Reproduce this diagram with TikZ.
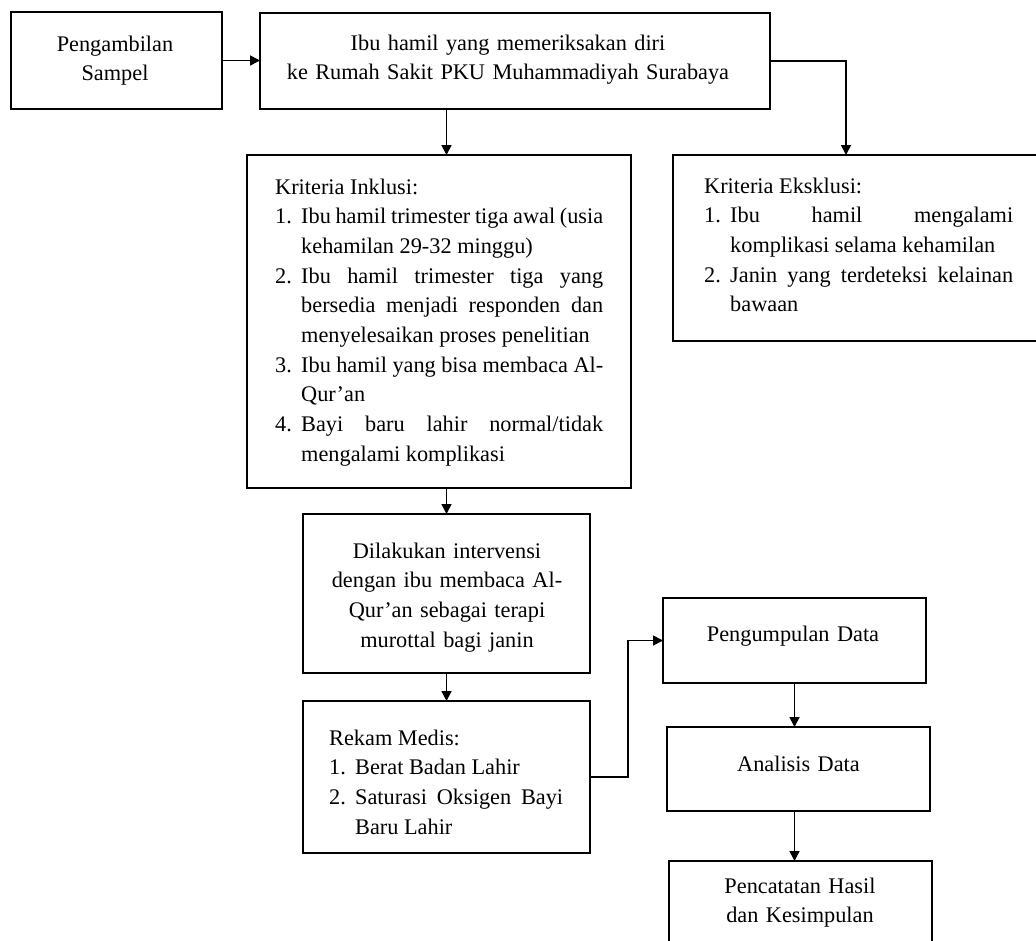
\documentclass[tikz,border=0pt]{standalone}
\usepackage{fontspec}
\setmainfont{Liberation Serif}
\usetikzlibrary{arrows.meta,calc}
\newcommand\fsz{\fontsize{22.3}{29.7}\selectfont}
\newcommand\myitem[2]{\par\hangindent=#1\hangafter=1\noindent\makebox[#1][l]{#2}}
\newcommand\jset{\hyphenpenalty=10000 \exhyphenpenalty=10000 \tolerance=10000 \spaceskip=.25em plus .3em minus .12em\relax}
\tikzset{
  box/.style={draw, line width=1.7pt, inner sep=0pt, outer sep=0pt, anchor=north west},
  arr/.style={line width=1.7pt, -{Triangle[length=10pt,width=10pt]}},
  ctxt/.style={inner sep=0pt, anchor=base, align=center, font=\fsz},
  ltxt/.style={inner sep=0pt, anchor=base west, align=justify, font=\fsz},
}
\begin{document}
\begin{tikzpicture}[x=1pt,y=-1pt]
\useasboundingbox (0,0) rectangle (1036,940);
\clip (0,0) rectangle (1036,940);
\fill[white] (0,0) rectangle (1036,940);
% boxes
\node[box, minimum width=211pt, minimum height=97pt] (A) at (11,12) {};
\node[box, minimum width=510pt, minimum height=96pt] (B) at (260,13) {};
\node[box, minimum width=384pt, minimum height=333pt] (Inc) at (247,155) {};
\node[box, minimum width=377pt, minimum height=186pt] (Eks) at (673,155) {};
\node[box, minimum width=287pt, minimum height=159pt] (Dil) at (303,514) {};
\node[box, minimum width=287pt, minimum height=152pt] (Rek) at (303,701) {};
\node[box, minimum width=263pt, minimum height=85pt] (Pg) at (663,598) {};
\node[box, minimum width=263pt, minimum height=84pt] (An) at (667,727) {};
\node[box, minimum width=263pt, minimum height=100pt] (Pc) at (669,861) {};
% texts
\node[ctxt, text width=200pt] (tA) at (115,51) {Pengambilan\\Sampel};
\node[ctxt, text width=480pt] (tB) at (508,50) {Ibu hamil yang memeriksakan diri\\ke Rumah Sakit PKU Muhammadiyah Surabaya};
\node[ltxt, text width=328pt] (tInc) at (275,194) {\jset
Kriteria Inklusi:
\myitem{26pt}{1.}Ibu hamil trimester tiga awal (usia\linebreak kehamilan 29-32 minggu)
\myitem{26pt}{2.}Ibu hamil trimester tiga yang\linebreak bersedia menjadi responden dan\linebreak menyelesaikan proses penelitian
\myitem{26pt}{3.}Ibu hamil yang bisa membaca Al-\linebreak Qur’an
\myitem{26pt}{4.}Bayi baru lahir normal/tidak\linebreak mengalami komplikasi\par};
\node[ltxt, text width=309pt] (tEks) at (704,193) {\jset
Kriteria Eksklusi:
\myitem{26pt}{1.}Ibu hamil mengalami\linebreak komplikasi selama kehamilan
\myitem{26pt}{2.}Janin yang terdeteksi kelainan\linebreak bawaan\par};
\node[ctxt, text width=280pt] (tDil) at (447,558) {Dilakukan intervensi\\dengan ibu membaca Al-\\Qur’an sebagai terapi\\murottal bagi janin};
\node[ltxt, text width=234pt] (tRek) at (329,745) {\jset
Rekam Medis:
\myitem{26pt}{1.}Berat Badan Lahir
\myitem{26pt}{2.}Saturasi Oksigen Bayi\linebreak Baru Lahir\par};
\node[ctxt, text width=250pt] (tPg) at (793,641) {Pengumpulan Data};
\node[ctxt, text width=250pt] (tAn) at (798.5,771) {Analisis Data};
\node[ctxt, text width=250pt] (tPc) at (800,893) {Pencatatan Hasil\\dan Kesimpulan};
% connectors
\coordinate (ek) at (846,155);
\draw[arr] (A.east) -- (A.east -| B.west);
\draw[arr] (B.south -| Dil.north) -- (Inc.north -| Dil.north);
\draw[arr] (B.east) -| (ek);
\draw[arr] (Inc.south -| Dil.north) -- (Dil.north);
\draw[arr] (Dil.south) -- (Rek.north);
\draw[arr] (Rek.east) -- ++(38,0) |- (Pg.west);
\draw[arr] (Pg.south) -- (Pg.south |- An.north);
\draw[arr] (An.south -| Pg.south) -- (Pc.north -| Pg.south);
\end{tikzpicture}
\end{document}
